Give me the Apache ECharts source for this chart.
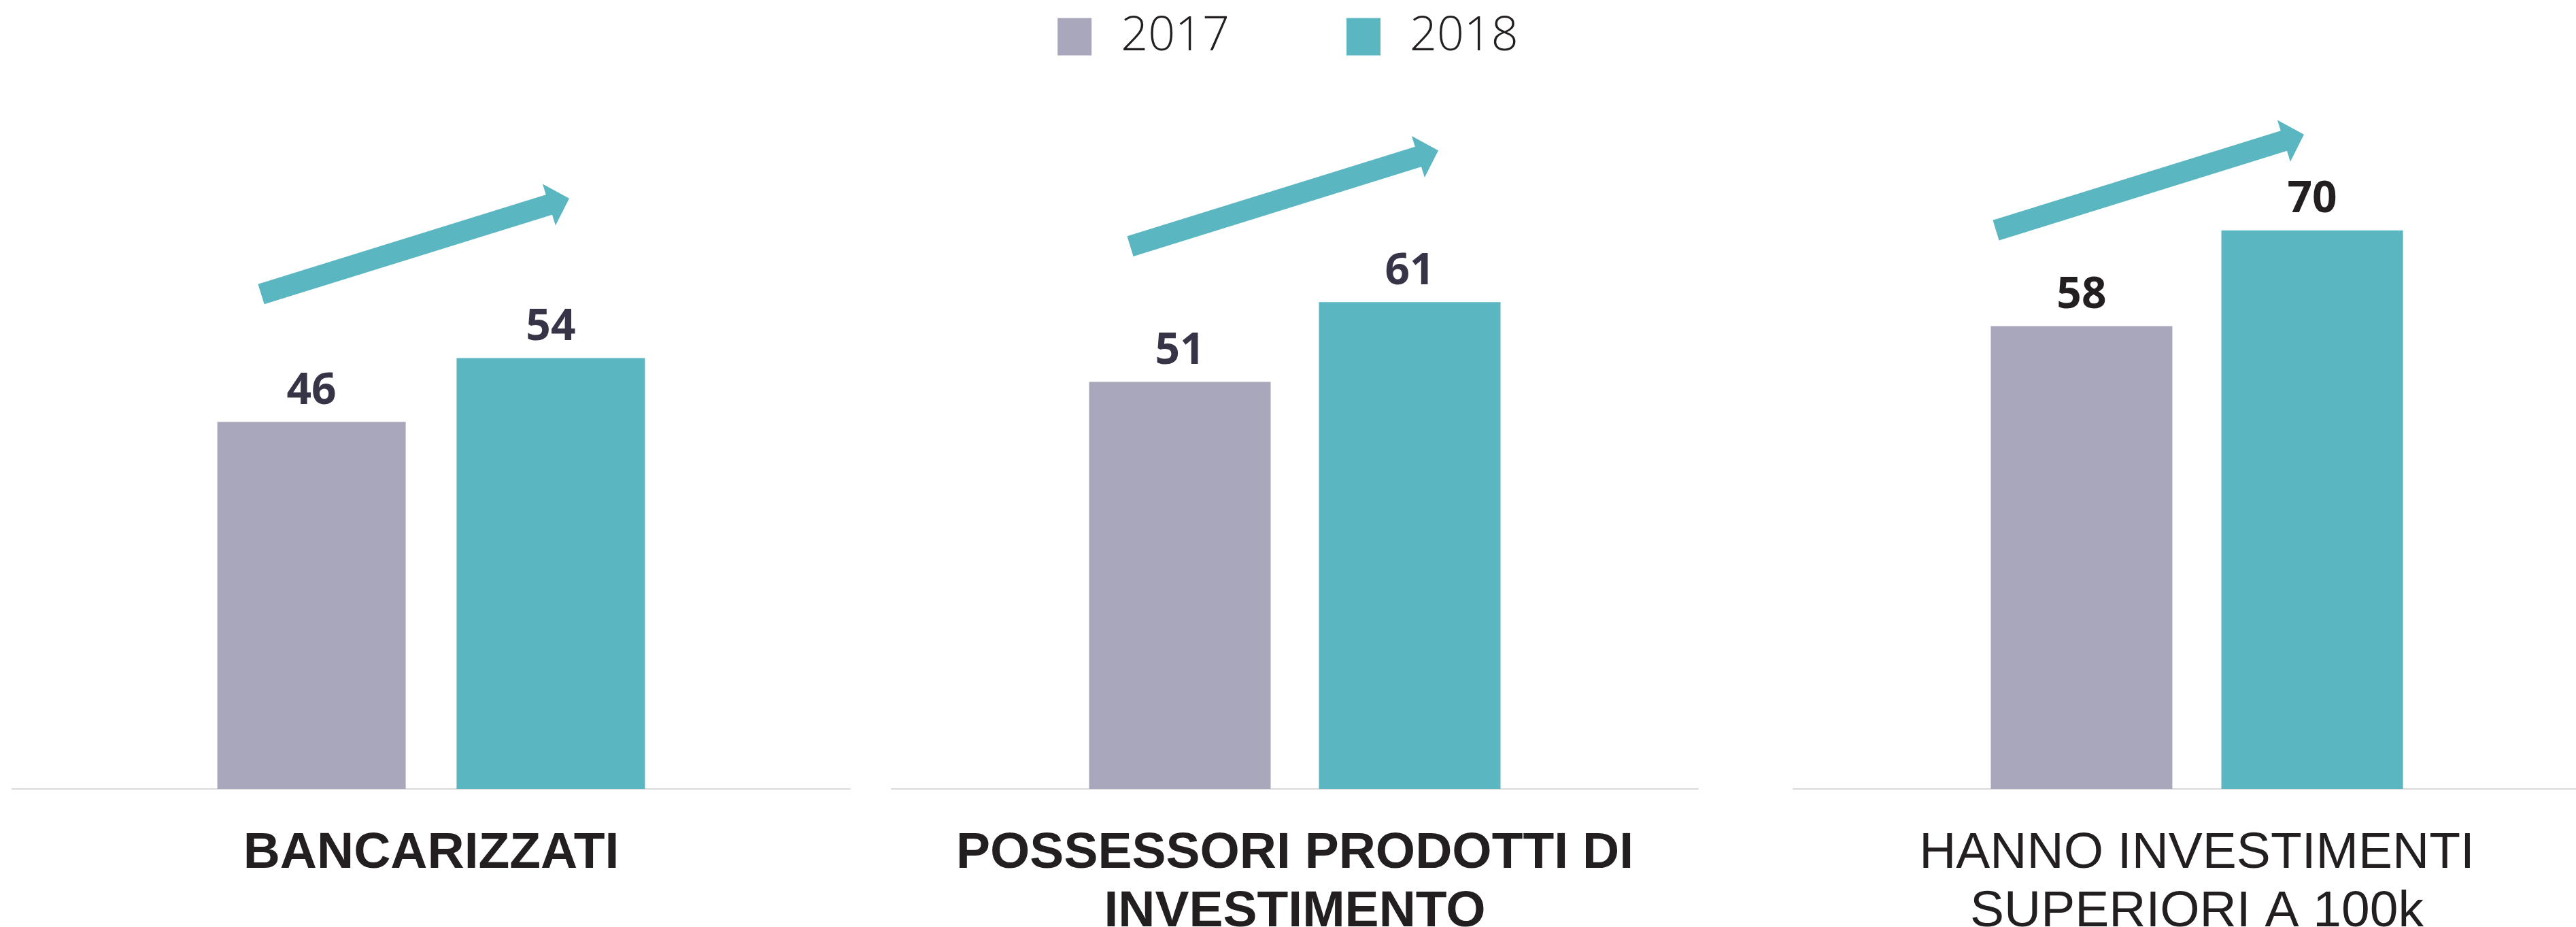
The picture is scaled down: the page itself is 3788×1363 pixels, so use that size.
<!DOCTYPE html>
<html>
<head>
<meta charset="utf-8">
<style>
  html, body { margin: 0; padding: 0; background: #ffffff; }
  #chart { width: 3788px; height: 1363px; }
</style>
<script src="https://cdn.jsdelivr.net/npm/echarts@6/dist/echarts.min.js"></script>
</head>
<body>
<div id="chart"></div>
<script>
// ---- data ----
const categories = ['BANCARIZZATI', 'POSSESSORI PRODOTTI DI\nINVESTIMENTO', 'HANNO INVESTIMENTI\nSUPERIORI A 100k'];
const seriesNames = ['2017', '2018'];
const values2017 = [46, 51, 58];
const values2018 = [54, 61, 70];
// trend arrows: value-axis level of tail and head, per panel
const arrowFrom = [62, 68, 70];
const arrowTo = [74, 80, 82];

// ---- layout / style ----
const gridLeft = [18, 1311, 2637];
const gridWidth = [1232, 1186, 1187];
const barWidths = [277, 267, 267];
const barGaps = ['27%', '26.6%', '27%'];
const labelWeights = ['bold', 'bold', 'normal'];
const valueColors = ['#363446', '#363446', '#231f20'];
const arrowTailX = [384, 1662, 2935];
const arrowDX = 453;
const colors = ['#a9a7bc', '#5ab6c0'];

const chart = echarts.init(document.getElementById('chart'), null, { renderer: 'canvas' });

const grids = [], xAxes = [], yAxes = [], series = [];
categories.forEach((cat, i) => {
  grids.push({ left: gridLeft[i], width: gridWidth[i], top: 104, bottom: 203, containLabel: false, outerBoundsMode: 'none' });
  xAxes.push({
    type: 'category', gridIndex: i, data: [cat],
    axisLine: { show: true, lineStyle: { color: '#d9d9d9', width: 2 } },
    axisTick: { show: false },
    axisLabel: {
      interval: 0, margin: 52, color: '#231f20',
      fontFamily: 'Liberation Sans', fontSize: 75, lineHeight: 86,
      fontWeight: labelWeights[i], hideOverlap: false
    }
  });
  yAxes.push({ type: 'value', gridIndex: i, min: 0, max: 90, show: false });
  [values2017, values2018].forEach((vals, s) => {
    series.push({
      name: seriesNames[s], type: 'bar', xAxisIndex: i, yAxisIndex: i,
      data: [vals[i]], barWidth: barWidths[i], barGap: barGaps[i],
      itemStyle: { color: colors[s] },
      label: {
        show: true, position: 'top', distance: 13,
        fontFamily: 'Open Sans', fontWeight: 'bold', fontSize: 64,
        color: valueColors[i]
      }
    });
  });
});

chart.setOption({
  animation: false,
  color: colors,
  legend: {
    data: seriesNames, top: 14, left: 'center',
    icon: 'rect', itemWidth: 50, itemHeight: 55, itemGap: 172,
    textStyle: { fontFamily: 'Open Sans', fontWeight: 300, fontSize: 70, color: '#231f20', padding: [0, 0, 0, 38] }
  },
  grid: grids, xAxis: xAxes, yAxis: yAxes, series: series
});

// arrows drawn from value-axis levels
const graphics = [];
categories.forEach((cat, i) => {
  const sx = arrowTailX[i];
  const sy = chart.convertToPixel({ yAxisIndex: i }, arrowFrom[i]);
  const tx = sx + arrowDX;
  const ty = chart.convertToPixel({ yAxisIndex: i }, arrowTo[i]);
  const len = Math.hypot(tx - sx, ty - sy);
  const ux = (tx - sx) / len, uy = (ty - sy) / len;
  const nx = -uy, ny = ux;
  const hw = 15.5, headW = 32, headL = 31;
  const hx = tx - headL * ux, hy = ty - headL * uy;
  const pts = [
    [sx - hw * nx, sy - hw * ny],
    [hx - hw * nx, hy - hw * ny],
    [hx - headW * nx, hy - headW * ny],
    [tx, ty],
    [hx + headW * nx, hy + headW * ny],
    [hx + hw * nx, hy + hw * ny],
    [sx + hw * nx, sy + hw * ny]
  ];
  graphics.push({ type: 'polygon', shape: { points: pts }, style: { fill: colors[1] }, z: 10 });
});
chart.setOption({ graphic: graphics });
</script>
</body>
</html>
